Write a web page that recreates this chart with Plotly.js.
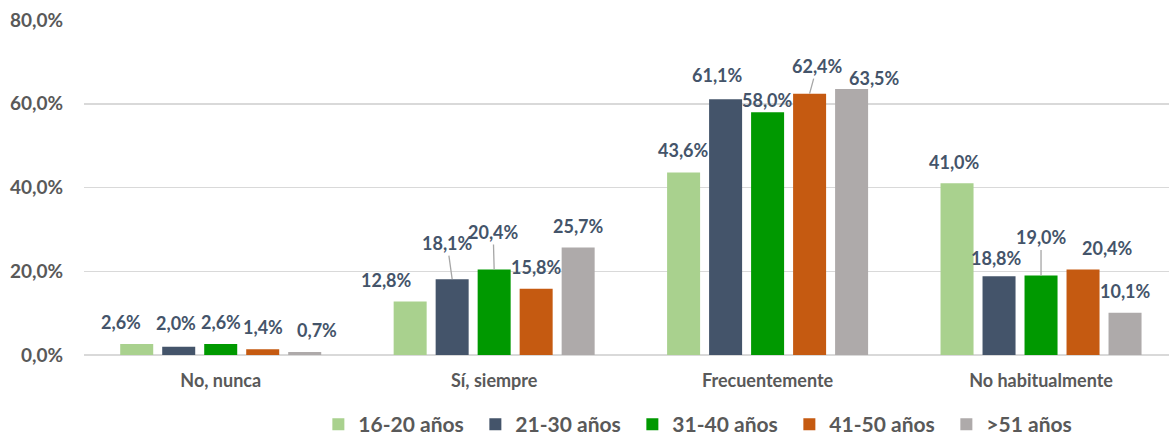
<!DOCTYPE html>
<html>
<head>
<meta charset="utf-8">
<script src="https://cdn.plot.ly/plotly-3.0.1.min.js"></script>
<style>
html,body{margin:0;padding:0;background:#fff;}
#chart{width:1169px;height:437px;}
</style>
</head>
<body>
<div id="chart"></div>
<script>
// ---- Data ----
const categories = ['No, nunca', 'Sí, siempre', 'Frecuentemente', 'No habitualmente'];
const seriesNames = ['16-20 años', '21-30 años', '31-40 años', '41-50 años', '>51 años'];
const v16_20 = [2.6, 12.8, 43.6, 41.0];
const v21_30 = [2.0, 18.1, 61.1, 18.8];
const v31_40 = [2.6, 20.4, 58.0, 19.0];
const v41_50 = [1.4, 15.8, 62.4, 20.4];
const v51 = [0.7, 25.7, 63.5, 10.1];
const yTickVals = [0, 20, 40, 60, 80];
const yTickText = ['0,0%', '20,0%', '40,0%', '60,0%', '80,0%'];

// ---- Styles ----
const colors = ['#A9D18E', '#44546A', '#009900', '#C55A11', '#AEAAAA'];
const allValues = [v16_20, v21_30, v31_40, v41_50, v51];
// label offsets in pixels relative to bar top (per series, per category)
const labelDx = [
  [-16, -24, 0, -3],
  [-2.5, -5, -8, -3],
  [0, -1, 0, 0],
  [0, 0, 7.5, 24],
  [12.5, 0, 23, 0]
];
const labelDy = [
  [-22, -21, -22, -21],
  [-23.5, -36, -24, -18],
  [-22, -37.5, -12, -38],
  [-22, -22, -27.5, -22],
  [-22, -21, -11, -22]
];
const leader = [
  [0, 0, 0, 0],
  [0, 1, 0, 0],
  [0, 1, 0, 1],
  [0, 0, 1, 0],
  [0, 0, 0, 0]
];

const FONT = 'Lato, "Open Sans", sans-serif';
const bargap = 0.232;
const n = seriesNames.length;
const slot = (1 - bargap) / n;

const traces = allValues.map((vals, i) => ({
  type: 'bar',
  name: seriesNames[i],
  x: categories,
  y: vals,
  marker: {color: colors[i]},
  hoverinfo: 'skip'
}));

const annotations = [];
allValues.forEach((vals, i) => {
  vals.forEach((v, c) => {
    annotations.push({
      xref: 'x', yref: 'y',
      x: c + (i - (n - 1) / 2) * slot,
      y: v,
      text: v.toFixed(1).replace('.', ',') + '%',
      showarrow: true,
      arrowhead: 0,
      arrowwidth: 1.3,
      arrowcolor: leader[i][c] ? '#A6A6A6' : 'rgba(0,0,0,0)',
      standoff: 0,
      ax: labelDx[i][c],
      ay: labelDy[i][c],
      font: {family: FONT, size: 18, color: '#44546A', weight: 'bold'}
    });
  });
});

const layout = {
  width: 1169,
  height: 437,
  margin: {l: 84, r: 0, t: 20, b: 82, autoexpand: false},
  paper_bgcolor: '#ffffff',
  plot_bgcolor: '#ffffff',
  barmode: 'group',
  bargap: bargap,
  bargroupgap: 0.214,
  showlegend: true,
  legend: {
    orientation: 'h',
    x: 0.216, xanchor: 'left',
    y: -0.2075, yanchor: 'middle',
    entrywidth: 112, entrywidthmode: 'pixels',
    font: {family: FONT, size: 21, color: '#595959', weight: 'bold'},
    traceorder: 'normal'
  },
  xaxis: {
    type: 'category',
    range: [-0.5, 3.468],
    showgrid: false,
    showline: false,
    ticks: '',
    ticklabelstandoff: 13,
    tickfont: {family: FONT, size: 18, color: '#595959', weight: 'bold'},
    fixedrange: true
  },
  yaxis: {
    range: [0, 80],
    tickvals: yTickVals,
    ticktext: yTickText,
    showgrid: true,
    gridcolor: '#D9D9D9',
    gridwidth: 1.5,
    zeroline: true,
    zerolinecolor: '#D9D9D9',
    zerolinewidth: 1.5,
    showline: false,
    ticks: '',
    ticklabelstandoff: 20,
    tickfont: {family: FONT, size: 19, color: '#595959', weight: 'bold'},
    fixedrange: true
  },
  annotations: annotations,
  hovermode: false
};

Plotly.newPlot('chart', traces, layout, {displayModeBar: false, staticPlot: true});
</script>
</body>
</html>
